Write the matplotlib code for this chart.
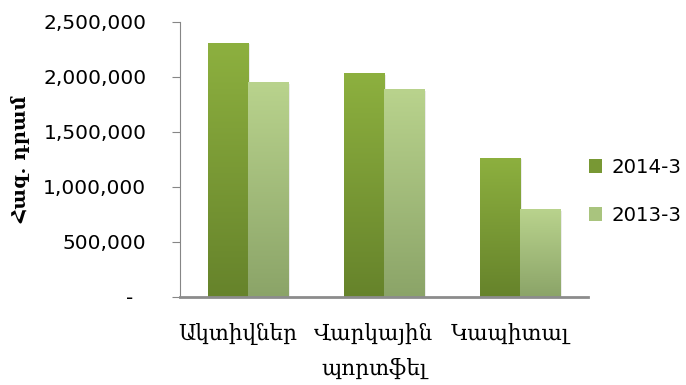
import numpy as np
import matplotlib.pyplot as plt
from matplotlib.ticker import FuncFormatter
from matplotlib.patches import Patch
from matplotlib.transforms import ScaledTranslation

# data
categories = ["Ակտիվներ", "Վարկային\nպորտֆել", "Կապիտալ"]
series_names = ["2014-3", "2013-3"]
values_2014 = [2310000, 2035000, 1265000]
values_2013 = [1955000, 1890000, 800000]
ylabel = "Հազ. դրամ"

# gradient colours (top, bottom) for each series
grad_2014 = ("#8db03f", "#66832b")
grad_2013 = ("#b9d38d", "#8ba468")
legend_colors = ["#789834", "#a9c47e"]

armenian = ["DejaVu Serif", "DejaVu Sans"]

fig = plt.figure(figsize=(6.86, 3.85), dpi=100)
ax = fig.add_axes([0.262, 0.229, 0.595, 0.714])

x = np.arange(len(categories))
w = 0.295


def gradient_bars(xpos, vals, colors):
    bars = ax.bar(xpos, vals, w, color="none", zorder=2)
    c_top = np.array(plt.matplotlib.colors.to_rgb(colors[0]))
    c_bot = np.array(plt.matplotlib.colors.to_rgb(colors[1]))
    t = np.linspace(0, 1, 256)[:, None]
    img = (c_top * (1 - t) + c_bot * t).reshape(256, 1, 3)
    for b in bars:
        x0, y0 = b.get_x(), b.get_y()
        # soft shadow
        ax.bar(x0 + b.get_width() / 2 + 0.018, b.get_height() - 15000, b.get_width(),
               color="#ececec", zorder=1)
        im = ax.imshow(img, extent=[x0, x0 + b.get_width(), y0, y0 + b.get_height()],
                       aspect="auto", zorder=2, origin="upper")
        im.set_clip_path(b)
    return bars


gradient_bars(x - w / 2, values_2014, grad_2014)
gradient_bars(x + w / 2, values_2013, grad_2013)

ax.set_xlim(-0.5, 2.5)
ax.set_ylim(0, 2500000)
ax.set_yticks(np.arange(0, 2500001, 500000))
ax.yaxis.set_major_formatter(FuncFormatter(lambda v, p: "-  " if v == 0 else f"{v:,.0f}"))

for s in ["top", "right"]:
    ax.spines[s].set_visible(False)
ax.spines["left"].set_color("#868686")
ax.spines["bottom"].set_color("#8c8c8c")
ax.spines["bottom"].set_linewidth(2)
ax.spines["bottom"].set_zorder(3)

ax.tick_params(axis="y", length=6, color="#868686", pad=18, labelsize=14.5)
ax.tick_params(axis="x", length=0, pad=19)
ax.set_xticks(x)
ax.set_xticklabels(categories, family=armenian, fontsize=15.5, linespacing=1.75, va="top")
shift = ScaledTranslation(-10 / 100, 0, fig.dpi_scale_trans)
for lab in ax.get_xticklabels():
    lab.set_transform(lab.get_transform() + shift)

ax.set_ylabel(ylabel, family=armenian, fontsize=14, fontweight="bold", labelpad=9)

handles = [Patch(facecolor=c) for c in legend_colors]
fig.legend(handles, series_names, loc="center left", bbox_to_anchor=(0.858, 0.503),
           frameon=False, fontsize=14.2, handlelength=0.7, handleheight=0.7,
           handletextpad=0.45, labelspacing=1.45, borderpad=0, borderaxespad=0)

fig.savefig("out.png", dpi=100)
